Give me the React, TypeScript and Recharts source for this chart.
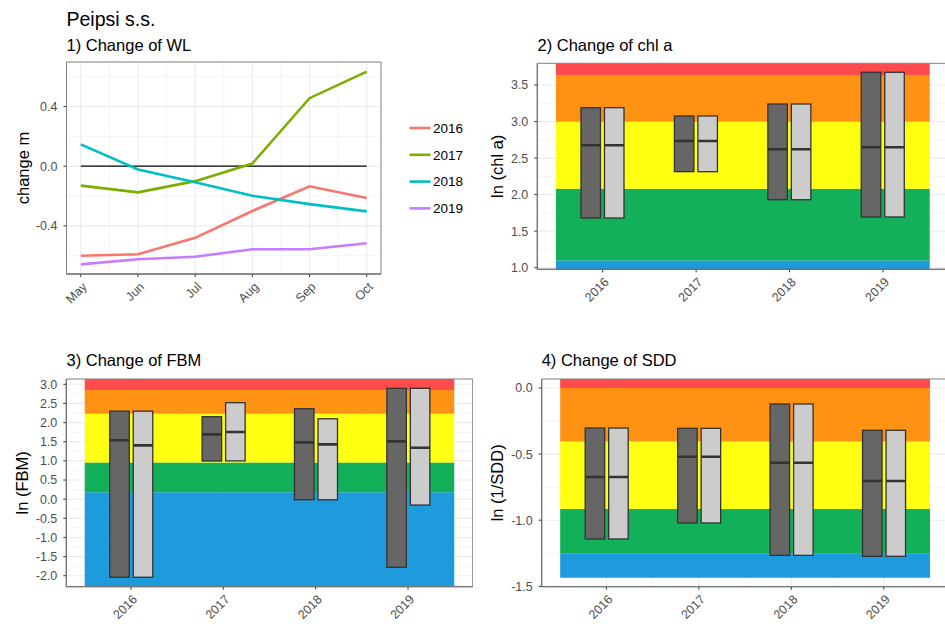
import React from 'react';
import {
  Bar,
  ComposedChart,
  Line,
  LineChart,
  ReferenceArea,
  ReferenceLine,
  XAxis,
  YAxis,
} from 'recharts';

const FONT = '"Liberation Sans", Arial, Helvetica, sans-serif';
const TICK_GREY = '#4D4D4D';
const AXIS_DARK = '#333333';
const GRID = '#EBEBEB';

// 1) Change of WL (m), May..Oct
const months = ['May', 'Jun', 'Jul', 'Aug', 'Sep', 'Oct'];
const wl2016 = [-0.6, -0.59, -0.48, -0.3, -0.135, -0.213];
const wl2017 = [-0.13, -0.175, -0.1, 0.018, 0.456, 0.634];
const wl2018 = [0.146, -0.022, -0.108, -0.198, -0.254, -0.303];
const wl2019 = [-0.658, -0.624, -0.607, -0.557, -0.557, -0.517];
const wlZero = [0, 0, 0, 0, 0, 0];

const wlSeries = [
  { key: 's2016', name: '2016', color: '#F8766D', values: wl2016 },
  { key: 's2017', name: '2017', color: '#7CAE00', values: wl2017 },
  { key: 's2018', name: '2018', color: '#00BFC4', values: wl2018 },
  { key: 's2019', name: '2019', color: '#C77CFF', values: wl2019 },
];

// box panels share the years
const years = ['2016', '2017', '2018', '2019'];

// 2) ln (chl a)
const chlDarkLow = [1.68, 2.314, 1.93, 1.694];
const chlDarkMid = [2.675, 2.734, 2.62, 2.648];
const chlDarkHigh = [3.19, 3.076, 3.24, 3.674];
const chlLightLow = [1.68, 2.314, 1.93, 1.694];
const chlLightMid = [2.675, 2.734, 2.62, 2.648];
const chlLightHigh = [3.19, 3.076, 3.24, 3.674];
const chlBreaks = [0.978, 1.099, 2.079, 2.996, 3.638, 3.797];

// 3) ln (FBM)
const fbmDarkLow = [-2.04, 0.996, -0.015, -1.78];
const fbmDarkMid = [1.537, 1.693, 1.484, 1.51];
const fbmDarkHigh = [2.3, 2.154, 2.362, 2.895];
const fbmLightLow = [-2.04, 1.0, -0.015, -0.154];
const fbmLightMid = [1.406, 1.754, 1.432, 1.344];
const fbmLightHigh = [2.3, 2.52, 2.1, 2.895];
const fbmBreaks = [-2.287, 0.182, 0.956, 2.233, 2.851, 3.139];

// 4) ln (1/SDD)
const sddDarkLow = [-1.142, -1.021, -1.266, -1.273];
const sddDarkMid = [-0.673, -0.52, -0.565, -0.703];
const sddDarkHigh = [-0.303, -0.305, -0.121, -0.32];
const sddLightLow = [-1.142, -1.021, -1.266, -1.273];
const sddLightMid = [-0.673, -0.52, -0.565, -0.703];
const sddLightHigh = [-0.303, -0.305, -0.121, -0.32];
const sddBreaks = [-1.435, -1.253, -0.916, -0.405, 0, 0.068];

// status classes, bottom to top
const bandColors = ['#0D93D9', '#01AA4E', '#FFFF00', '#FF8A00', '#FF3D3D'];

const wlRows = months.map((m, i) => {
  const row: Record<string, number> = { i, zero: wlZero[i] };
  wlSeries.forEach((s) => (row[s.key] = s.values[i]));
  return row;
});

function boxRows(dl: number[], dm: number[], dh: number[], ll: number[], lm: number[], lh: number[]) {
  return years.map((_, i) => ({
    x: i + 1,
    dark: [dl[i], dh[i]],
    darkMid: dm[i],
    light: [ll[i], lh[i]],
    lightMid: lm[i],
  }));
}

const boxShape = (fill: string, key: 'dark' | 'light') => (props: any) => {
  const { x, y, width, height, payload } = props;
  const top = height < 0 ? y + height : y;
  const h = Math.abs(height);
  const [lo, hi] = payload[key];
  const mid = payload[key + 'Mid'];
  const my = top + (h * (hi - mid)) / (hi - lo);
  return (
    <g>
      <rect x={x} y={top} width={width} height={h} fill={fill} stroke={AXIS_DARK} strokeWidth={1.3} />
      <line x1={x} x2={x + width} y1={my} y2={my} stroke={AXIS_DARK} strokeWidth={2.6} />
    </g>
  );
};

const rotatedTick = (labels: (v: number) => string) => (props: any) => {
  const { x, y, payload } = props;
  const ax = x + 7;
  const ay = y + 8.5;
  return (
    <text
      x={ax}
      y={ay}
      transform={`rotate(-45 ${ax} ${ay})`}
      textAnchor="end"
      fill={TICK_GREY}
      fontSize={12.5}
      fontFamily={FONT}
    >
      {labels(payload.value)}
    </text>
  );
};

const yTick = { fill: TICK_GREY, fontSize: 12.5, fontFamily: FONT };

function gridLines(xMajor: number[], xMinor: number[], yMajor: number[], yMinor: number[]) {
  return [
    ...yMinor.map((v) => (
      <ReferenceLine key={`ym${v}`} y={v} stroke={GRID} strokeWidth={0.55} zIndex={-100} />
    )),
    ...xMinor.map((v) => (
      <ReferenceLine key={`xm${v}`} x={v} stroke={GRID} strokeWidth={0.55} zIndex={-100} />
    )),
    ...yMajor.map((v) => (
      <ReferenceLine key={`yM${v}`} y={v} stroke={GRID} strokeWidth={1.1} zIndex={-100} />
    )),
    ...xMajor.map((v) => (
      <ReferenceLine key={`xM${v}`} x={v} stroke={GRID} strokeWidth={1.1} zIndex={-100} />
    )),
  ];
}

function WlPanel() {
  const xDomain: [number, number] = [-0.25, 5.25];
  const yDomain: [number, number] = [-0.7226, 0.6986];
  return (
    <LineChart width={470} height={320} data={wlRows} margin={{ top: 62, right: 89, bottom: 0, left: 0 }}>
      {gridLines([0, 1, 2, 3, 4, 5], [0.5, 1.5, 2.5, 3.5, 4.5], [-0.4, 0, 0.4], [-0.6, -0.2, 0.2, 0.6])}
      <XAxis
        dataKey="i"
        type="number"
        domain={xDomain}
        ticks={[0, 1, 2, 3, 4, 5]}
        interval={0}
        allowDataOverflow
        height={46}
        tickSize={3}
        tickMargin={2}
        stroke={AXIS_DARK}
        tick={rotatedTick((v) => months[v])}
      />
      <YAxis
        type="number"
        domain={yDomain}
        ticks={[-0.4, 0, 0.4]}
        interval={0}
        allowDataOverflow
        width={66.5}
        tickSize={3}
        tickMargin={6}
        stroke={AXIS_DARK}
        tick={yTick}
        tickFormatter={(v: number) => v.toFixed(1)}
      />
      <Line dataKey="zero" stroke="#000000" strokeWidth={1.2} dot={false} isAnimationActive={false} />
      {wlSeries.map((s) => (
        <Line
          key={s.key}
          dataKey={s.key}
          name={s.name}
          stroke={s.color}
          strokeWidth={2.6}
          dot={false}
          type="linear"
          isAnimationActive={false}
        />
      ))}
      <ReferenceArea
        x1={xDomain[0]}
        x2={xDomain[1]}
        y1={yDomain[0]}
        y2={yDomain[1]}
        fill="none"
        stroke="#7F7F7F"
        strokeWidth={1}
        zIndex={600}
      />
    </LineChart>
  );
}

type BoxPanelProps = {
  width: number;
  height: number;
  marginTop: number;
  yAxisWidth: number;
  xAxisHeight: number;
  yDomain: [number, number];
  yTicks: number[];
  yMinor: number[];
  breaks: number[];
  rows: ReturnType<typeof boxRows>;
};

function BoxPanel({ width, height, marginTop, yAxisWidth, xAxisHeight, yDomain, yTicks, yMinor, breaks, rows }: BoxPanelProps) {
  const xDomain: [number, number] = [0.3, 4.7];
  return (
    <ComposedChart
      width={width}
      height={height}
      data={rows}
      barGap={4}
      margin={{ top: marginTop, right: 0, bottom: 0, left: 0 }}
    >
      {gridLines([1, 2, 3, 4], [0.5, 1.5, 2.5, 3.5, 4.5], yTicks, yMinor)}
      {bandColors.map((c, i) => (
        <ReferenceArea
          key={c}
          x1={0.5}
          x2={4.5}
          y1={breaks[i]}
          y2={breaks[i + 1]}
          fill={c}
          fillOpacity={0.93}
          stroke="none"
          ifOverflow="hidden"
          zIndex={-90}
        />
      ))}
      <XAxis
        dataKey="x"
        type="number"
        domain={xDomain}
        ticks={[1, 2, 3, 4]}
        interval={0}
        allowDataOverflow
        height={xAxisHeight}
        tickSize={3}
        tickMargin={2}
        stroke={AXIS_DARK}
        tick={rotatedTick((v) => years[v - 1])}
      />
      <YAxis
        type="number"
        domain={yDomain}
        ticks={yTicks}
        interval={0}
        allowDataOverflow
        width={yAxisWidth}
        tickSize={3}
        tickMargin={6}
        stroke={AXIS_DARK}
        tick={yTick}
        tickFormatter={(v: number) => v.toFixed(1)}
      />
      <Bar dataKey="dark" barSize={19.5} shape={boxShape('#666666', 'dark')} isAnimationActive={false} />
      <Bar dataKey="light" barSize={19.5} shape={boxShape('#CCCCCC', 'light')} isAnimationActive={false} />
      <ReferenceArea
        x1={xDomain[0]}
        x2={xDomain[1]}
        y1={yDomain[0]}
        y2={yDomain[1]}
        fill="none"
        stroke="#7F7F7F"
        strokeWidth={1}
        zIndex={600}
      />
    </ComposedChart>
  );
}

const chlRows = boxRows(chlDarkLow, chlDarkMid, chlDarkHigh, chlLightLow, chlLightMid, chlLightHigh);
const fbmRows = boxRows(fbmDarkLow, fbmDarkMid, fbmDarkHigh, fbmLightLow, fbmLightMid, fbmLightHigh);
const sddRows = boxRows(sddDarkLow, sddDarkMid, sddDarkHigh, sddLightLow, sddLightMid, sddLightHigh);

const titleStyle = { fontFamily: FONT, fill: '#000000' };

export default function App() {
  return (
    <div
      style={{
        position: 'absolute',
        left: 0,
        top: 0,
        width: 945,
        height: 627,
        overflow: 'hidden',
        background: '#ffffff',
      }}
    >
      <div style={{ position: 'absolute', left: 0, top: 0 }}>
        <WlPanel />
      </div>
      <div style={{ position: 'absolute', left: 470, top: 0 }}>
        <BoxPanel
          width={478.4}
          height={320}
          marginTop={63.3}
          yAxisWidth={67.3}
          xAxisHeight={50.7}
          yDomain={[chlBreaks[0], chlBreaks[5]]}
          yTicks={[1, 1.5, 2, 2.5, 3, 3.5]}
          yMinor={[1.25, 1.75, 2.25, 2.75, 3.25, 3.75]}
          breaks={chlBreaks}
          rows={chlRows}
        />
      </div>
      <div style={{ position: 'absolute', left: 0, top: 330 }}>
        <BoxPanel
          width={472.7}
          height={297}
          marginTop={49}
          yAxisWidth={66.3}
          xAxisHeight={40.3}
          yDomain={[fbmBreaks[0], fbmBreaks[5]]}
          yTicks={[-2, -1.5, -1, -0.5, 0, 0.5, 1, 1.5, 2, 2.5, 3]}
          yMinor={[-2.25, -1.75, -1.25, -0.75, -0.25, 0.25, 0.75, 1.25, 1.75, 2.25, 2.75]}
          breaks={fbmBreaks}
          rows={fbmRows}
        />
      </div>
      <div style={{ position: 'absolute', left: 470, top: 330 }}>
        <BoxPanel
          width={478.5}
          height={297}
          marginTop={49}
          yAxisWidth={71.7}
          xAxisHeight={40.3}
          yDomain={[-1.503, sddBreaks[5]]}
          yTicks={[-1.5, -1, -0.5, 0]}
          yMinor={[-1.25, -0.75, -0.25]}
          breaks={sddBreaks}
          rows={sddRows}
        />
      </div>
      <svg
        width={945}
        height={627}
        style={{ position: 'absolute', left: 0, top: 0, pointerEvents: 'none' }}
      >
        <text x={66.5} y={26} fontSize={19.5} {...titleStyle}>Peipsi s.s.</text>
        <text x={66.5} y={50.5} fontSize={16.5} {...titleStyle}>1) Change of WL</text>
        <text x={537.5} y={50.5} fontSize={16.5} {...titleStyle}>2) Change of chl a</text>
        <text x={66.5} y={366} fontSize={16.5} {...titleStyle}>3) Change of FBM</text>
        <text x={541.7} y={366} fontSize={16.5} {...titleStyle}>4) Change of SDD</text>
        <text x={28.5} y={168} fontSize={16.5} textAnchor="middle" transform="rotate(-90 28.5 168)" {...titleStyle}>change m</text>
        <text x={502.7} y={166.3} fontSize={16.5} textAnchor="middle" transform="rotate(-90 502.7 166.3)" {...titleStyle}>ln (chl a)</text>
        <text x={28.5} y={482.8} fontSize={16.5} textAnchor="middle" transform="rotate(-90 28.5 482.8)" {...titleStyle}>ln (FBM)</text>
        <text x={502.7} y={482.8} fontSize={16.5} textAnchor="middle" transform="rotate(-90 502.7 482.8)" {...titleStyle}>ln (1/SDD)</text>
        {wlSeries.map((s, i) => (
          <g key={s.key}>
            <line x1={409.5} x2={430.5} y1={128 + i * 26.8} y2={128 + i * 26.8} stroke={s.color} strokeWidth={2.6} />
            <text x={433} y={128 + i * 26.8 + 4.8} fontSize={13.5} {...titleStyle}>{s.name}</text>
          </g>
        ))}
      </svg>
    </div>
  );
}
